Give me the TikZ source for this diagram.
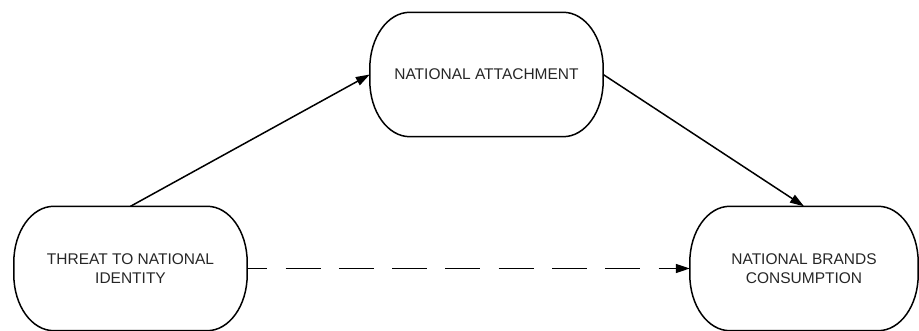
\documentclass[tikz,border=0pt]{standalone}
\usepackage{fontspec}
\setmainfont{Liberation Sans}
\usetikzlibrary{arrows.meta}
\begin{document}
\begin{tikzpicture}[x=1pt,y=1pt,
  box/.style={inner sep=0pt, align=center, font=\fontsize{15.5}{19}\selectfont,
              text=black!85, minimum width=233pt, minimum height=124pt},
  outline/.style={line width=1.5pt, black},
  link/.style={line width=1.5pt, -{Triangle[length=14pt,width=9pt]}},
  maybe/.style={link, dash pattern=on 35pt off 18.3pt, dash phase=15pt}]
\useasboundingbox (0,0) rectangle (919,331);

\node[box] (att) at (486.5,256.5) {NATIONAL ATTACHMENT};
\node[box] (thr) at (130.5,62.5) {THREAT TO NATIONAL\\IDENTITY};
\node[box, minimum width=228pt] (buy) at (804,62.5) {NATIONAL BRANDS\\CONSUMPTION};

% stadium-like outlines with elliptical corners
\def\rx{40pt}\def\ry{56pt}
\foreach \n in {att,thr,buy}{
  \draw[outline] ([xshift=\rx]\n.north west) -- ([xshift=-\rx]\n.north east)
    arc[start angle=90,end angle=0,x radius=\rx,y radius=\ry]
    -- ([yshift=\ry]\n.south east)
    arc[start angle=0,end angle=-90,x radius=\rx,y radius=\ry]
    -- ([xshift=\rx]\n.south west)
    arc[start angle=270,end angle=180,x radius=\rx,y radius=\ry]
    -- ([yshift=-\ry]\n.north west)
    arc[start angle=180,end angle=90,x radius=\rx,y radius=\ry] -- cycle;
}

\draw[link] (thr.north) -- (att.west);
\draw[link] (att.east) -- (buy.north);
\draw[maybe] (thr.east) -- (buy.west);
\end{tikzpicture}
\end{document}
